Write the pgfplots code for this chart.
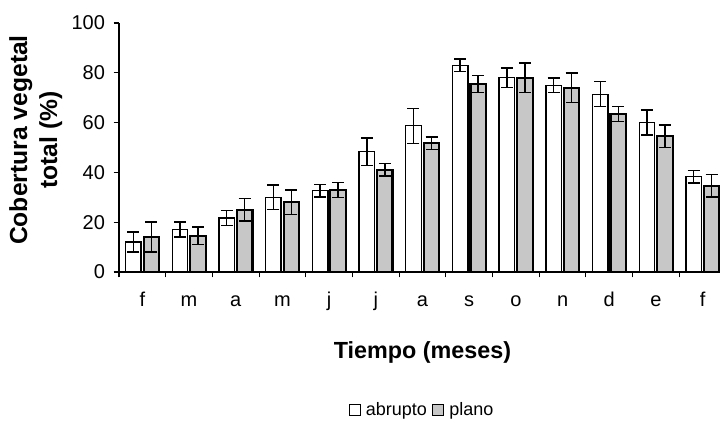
\documentclass[border=0pt]{standalone}
\usepackage{pgfplots}
\usepackage{pgfplotstable}
\pgfplotsset{compat=1.18}
\usepackage{fontspec}
\setmainfont{Liberation Sans}
\pgfplotstableread{
x a ea p ep
0 12 4 14 6
1 17 3 14.5 3.5
2 21.7 3 25 4.5
3 30 5 28 5
4 32.6 2.5 33 3
5 48.3 5.5 41 2.5
6 58.7 7 51.8 2.5
7 83 2.5 75.5 3.5
8 78 4 78 6
9 75 3 74 6
10 71.4 5 63.5 3
11 60 5 54.5 4.5
12 38.3 2.5 34.7 4.5
}\data
\begin{document}
\begin{tikzpicture}
\begin{axis}[
  at={(89.25pt,113.25pt)}, anchor=south west,
  scale only axis, width=455.25pt, height=186.75pt,
  xmin=-0.5, xmax=12.5, ymin=0, ymax=100,
  axis lines=left, axis line style={-, line width=0.8pt},
  xtick={-0.5,0.5,...,12.5},
  x tick label as interval,
  xticklabels={f,m,a,m,j,j,a,s,o,n,d,e,f},
  ytick={0,20,...,100},
  tick align=outside, major tick length=4pt,
  tick style={black, line width=0.8pt},
  ticklabel style={font=\fontsize{15}{17}\selectfont},
  /pgf/number format/assume math mode=true,
  yticklabel style={xshift=-3pt},
  xticklabel style={anchor=base, text height=11pt, yshift=-22pt},
  ylabel={Cobertura vegetal\\total (\%)},
  ylabel style={font=\bfseries\fontsize{18.5}{22.5}\selectfont, align=center, at={(axis description cs:-0.137,0.53)}, anchor=center},
  xlabel={Tiempo (meses)},
  xlabel style={font=\bfseries\fontsize{17.5}{21}\selectfont, at={(axis description cs:0.5,-0.325)}, anchor=center},
  legend style={at={(axis description cs:0.5,-0.554)}, anchor=center, draw=none, font=\fontsize{13.5}{15}\selectfont, legend columns=2, column sep=2pt, inner sep=0pt},
  legend image code/.code={\draw[#1, line width=0.8pt] (0pt,-4pt) rectangle (8pt,4pt);},
  error bars/error bar style={black, line width=1.1pt},
  error bars/error mark options={rotate=90, mark size=4.5pt, line width=1.1pt, black},
]
\addplot[ybar, bar width=11.6pt, bar shift=0pt, draw=black, line width=1pt, fill=white,
  error bars/.cd, y dir=both, y explicit]
  table[x expr=\thisrow{x}-0.193, y=a, y error=ea] {\data};
\addlegendentry{abrupto}
\addplot[ybar, bar width=11.6pt, bar shift=0pt, draw=black, line width=1.6pt, fill=black!22,
  error bars/.cd, y dir=both, y explicit]
  table[x expr=\thisrow{x}+0.193, y=p, y error=ep] {\data};
\addlegendentry{plano}
\end{axis}
\pgfresetboundingbox
\path[use as bounding box] (0,0) rectangle (540pt,317.25pt);
\end{tikzpicture}
\end{document}
